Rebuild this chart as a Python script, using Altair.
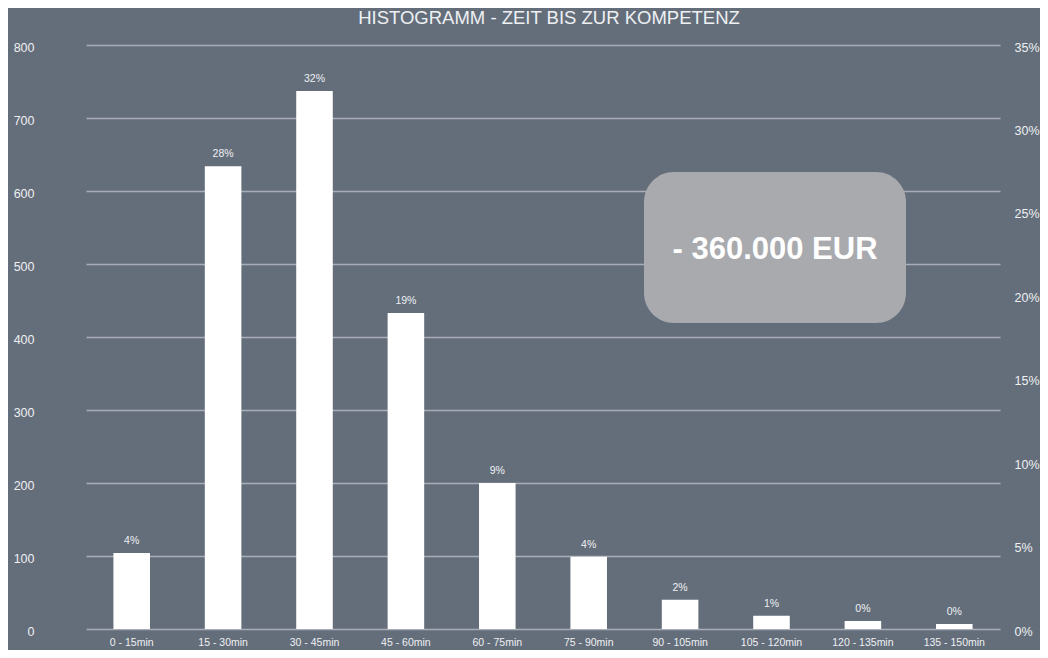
import altair as alt
import pandas as pd

categories = ["0 - 15min", "15 - 30min", "30 - 45min", "45 - 60min", "60 - 75min",
              "75 - 90min", "90 - 105min", "105 - 120min", "120 - 135min", "135 - 150min"]
counts = [104, 634, 737, 433, 200, 99, 40, 18, 11, 7]
shares = [0.04, 0.28, 0.32, 0.19, 0.09, 0.04, 0.02, 0.01, 0.0, 0.0]

title_text = "HISTOGRAMM - ZEIT BIS ZUR KOMPETENZ"
badge_text = "- 360.000 EUR"

df = pd.DataFrame({"cat": categories, "count": counts, "share": shares})

BG = "#646e7b"
FG = "#eef0f2"
GRID = "#a9aeb6"
FONT = "Liberation Sans"

x = alt.X("cat:N", sort=categories, title=None,
          scale=alt.Scale(paddingInner=0.6, paddingOuter=0.3),
          axis=alt.Axis(labelAngle=0, labelFontSize=10.5, labelColor=FG, labelPadding=8,
                        ticks=False, domain=False, labelFont=FONT))

yl = alt.Y("count:Q", title=None,
           scale=alt.Scale(domain=[0, 800], nice=False),
           axis=alt.Axis(values=[0, 100, 200, 300, 400, 500, 600, 700, 800],
                         labelFontSize=12.5, labelColor=FG, labelPadding=52, labelOffset=2,
                         ticks=False, domain=False, grid=True, gridColor=GRID,
                         gridWidth=1.3, labelFont=FONT))

base = alt.Chart(df)

bars = base.mark_bar(color="white").encode(x=x, y=yl)

labels = base.mark_text(color=FG, fontSize=10.5, baseline="bottom", dy=-7, font=FONT).encode(
    x=alt.X("cat:N", sort=categories),
    y=yl,
    text=alt.Text("share:Q", format=".0%")
)

left = alt.layer(bars, labels)

right = base.mark_point(opacity=0).encode(
    x=alt.X("cat:N", sort=categories),
    y=alt.Y("share:Q", title=None,
            scale=alt.Scale(domain=[0, 0.35], nice=False),
            axis=alt.Axis(orient="right", values=[0, 0.05, 0.1, 0.15, 0.2, 0.25, 0.3, 0.35],
                          format=".0%", labelFontSize=12.5, labelColor=FG, labelPadding=14,
                          labelOffset=2, ticks=False, domain=False, grid=False, labelFont=FONT))
)

badge_df = pd.DataFrame({"t": [badge_text]})
badge = alt.Chart(badge_df).mark_rect(color="#a9aaae", cornerRadius=30).encode(
    x=alt.value(558), x2=alt.value(820), y=alt.value(127), y2=alt.value(278)
)
badge_label = alt.Chart(badge_df).mark_text(color="white", fontSize=31, fontWeight="bold",
                                            font=FONT, align="center", baseline="middle").encode(
    x=alt.value(689), y=alt.value(205), text="t:N"
)

chart = alt.layer(left, right, badge, badge_label).resolve_scale(y="independent").properties(
    width=914, height=584,
    background=BG,
    padding={"left": 78, "top": 37, "right": 40, "bottom": 21},
    autosize=alt.AutoSizeParams(type="none"),
    title=alt.Title(title_text, fontSize=18.5, fontWeight="normal", color=FG, font=FONT,
                    anchor="middle", offset=14, dx=6)
).configure_view(stroke=None)

chart.save("out.html", embed_options={"renderer": "svg", "actions": False})
